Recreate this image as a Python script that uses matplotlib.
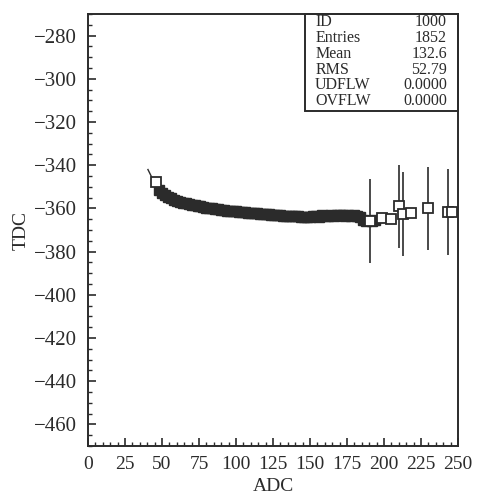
import numpy as np
import matplotlib.pyplot as plt
from matplotlib.ticker import MultipleLocator

# profile points, dense part (ADC bins, mean TDC)
adc_dense = [48, 50, 52, 54, 56, 58, 60, 62, 64, 66, 68, 70, 72, 74, 76, 78,
             80, 82, 84, 86, 88, 90, 92, 94, 96, 98, 100, 102, 104, 106, 108,
             110, 112, 114, 116, 118, 120, 122, 124, 126, 128, 130, 132, 134,
             136, 138, 140, 142, 144, 146, 148, 150, 152, 154, 156, 158, 160,
             162, 164, 166, 168, 170, 172, 174, 176, 178, 180, 182, 184, 186,
             188, 192, 194]
tdc_dense = [-351.5, -352.8, -353.8, -354.6, -355.3, -355.9, -356.4, -356.9,
             -357.3, -357.7, -358.0, -358.3, -358.6, -358.9, -359.1, -359.4,
             -359.6, -359.8, -360.0, -360.2, -360.4, -360.6, -360.8, -361.0,
             -361.1, -361.3, -361.4, -361.6, -361.7, -361.8, -362.0, -362.1,
             -362.2, -362.3, -362.5, -362.6, -362.7, -362.8, -362.9, -363.0,
             -363.1, -363.2, -363.3, -363.4, -363.5, -363.5, -363.6, -363.7,
             -363.8, -363.8, -363.9, -363.8, -363.5, -363.4, -363.8, -363.2,
             -363.6, -363.3, -363.0, -363.4, -362.9, -363.2, -363.0, -363.6,
             -362.9, -363.4, -363.0, -363.6, -364.0, -365.5, -366.0, -366.0,
             -365.5]

# sparse points with errors
adc_sparse = [46, 190.5, 199, 205, 210, 213, 218, 230, 243, 246]
tdc_sparse = [-348.0, -365.7, -364.6, -364.8, -359.0, -362.5, -362.3, -360.0,
              -361.7, -361.5]
tdc_err = [0.5, 19.5, 0.5, 0.5, 19.3, 19.5, 0.5, 19.4, 20.0, 0.5]

# short piece of the fit curve at the low-ADC end
fit_adc = [40.5, 47.0]
fit_tdc = [-342.0, -351.0]

stats_names = ['ID', 'Entries', 'Mean', 'RMS', 'UDFLW', 'OVFLW']
stats_vals = ['1000', '1852', '132.6', '52.79', '0.0000', '0.0000']

plt.rcParams['font.family'] = ['Liberation Serif', 'DejaVu Serif']
ink = '#2b2b2b'

fig = plt.figure(figsize=(4.81, 4.97), dpi=100)
ax = fig.add_axes([0.183, 0.1026, 0.769, 0.8692])

ax.plot(fit_adc, fit_tdc, color=ink, lw=1.0, zorder=2)
ax.plot(adc_dense, tdc_dense, 's', ms=6.8, mfc=ink, mec=ink, mew=1.0,
        zorder=3)
ax.errorbar(adc_sparse, tdc_sparse, yerr=tdc_err, fmt='s', ms=6.5,
            mfc='white', mec=ink, mew=1.3, ecolor=ink, elinewidth=1.2,
            capsize=0, zorder=4)

ax.set_xlim(0, 250)
ax.set_ylim(-470, -270)
ax.xaxis.set_major_locator(MultipleLocator(25))
ax.xaxis.set_minor_locator(MultipleLocator(5))
ax.yaxis.set_major_locator(MultipleLocator(20))
ax.yaxis.set_minor_locator(MultipleLocator(5))
ax.tick_params(which='both', direction='in', top=False, right=False,
               color=ink, labelcolor=ink)
ax.tick_params(axis='y', labelsize=15, pad=8)
ax.tick_params(axis='x', labelsize=14, pad=7)
ax.tick_params(which='major', length=6, width=1.2)
ax.tick_params(which='minor', length=3, width=1.0)
for s in ax.spines.values():
    s.set_color(ink)
    s.set_linewidth(1.4)

ax.set_xlabel('ADC', fontsize=14, color=ink, labelpad=4)
ax.set_ylabel('TDC', fontsize=14, color=ink, labelpad=3)

# stats box
bx0, by0 = 0.587, 0.775
ax.add_patch(plt.Rectangle((bx0, by0), 1.0 - bx0, 1.0 - by0,
                           transform=ax.transAxes, fill=False, ec=ink,
                           lw=1.4, zorder=5, clip_on=False))
for i, (n, v) in enumerate(zip(stats_names, stats_vals)):
    yy = 0.981 - i * 0.0365
    ax.text(0.614, yy, n, transform=ax.transAxes, fontsize=11.5, color=ink,
            ha='left', va='center')
    ax.text(0.970, yy, v, transform=ax.transAxes, fontsize=11.5, color=ink,
            ha='right', va='center')

fig.savefig('out.png', dpi=100)
